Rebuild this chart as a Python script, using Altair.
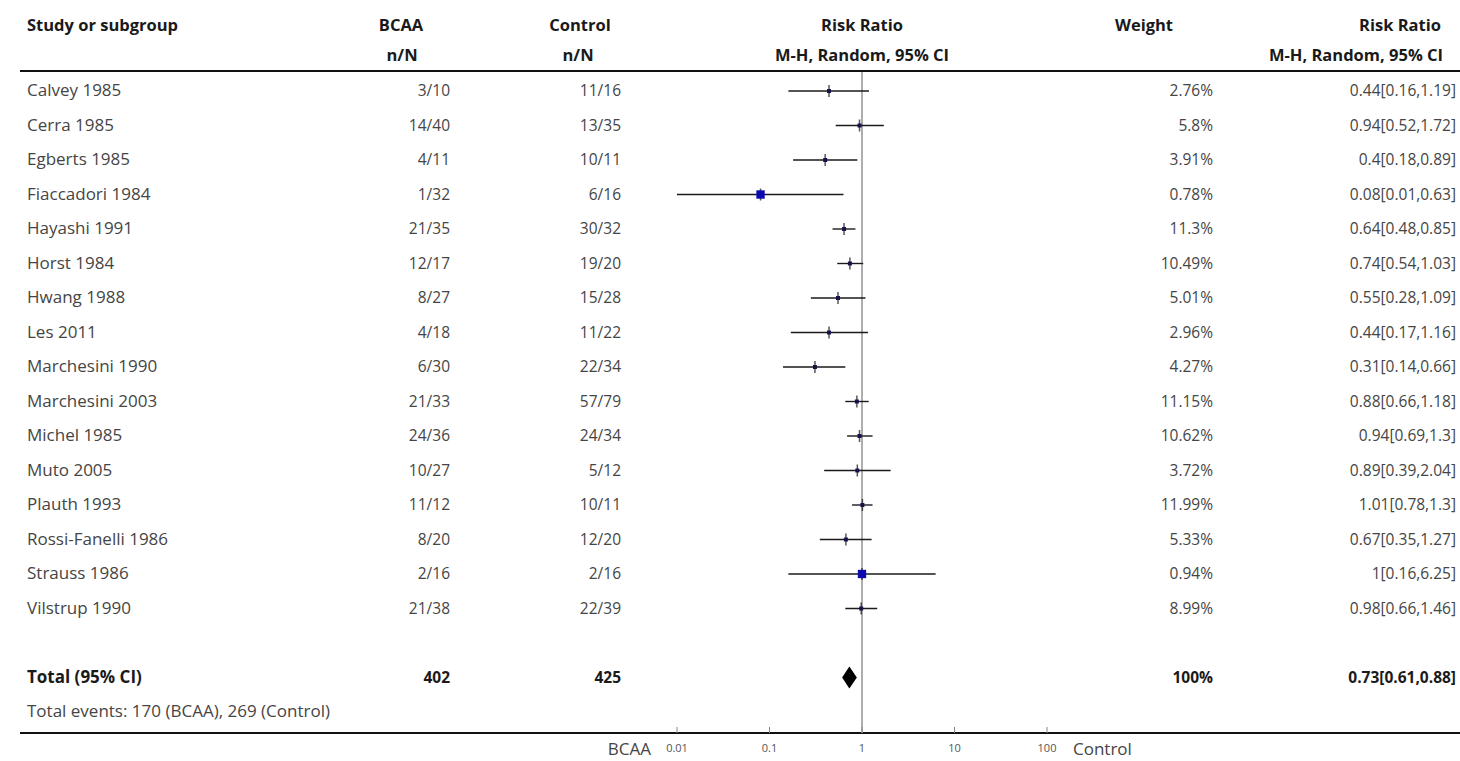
import altair as alt
import pandas as pd

# ---- data ----
studies = ["Calvey 1985", "Cerra 1985", "Egberts 1985", "Fiaccadori 1984", "Hayashi 1991",
           "Horst 1984", "Hwang 1988", "Les 2011", "Marchesini 1990", "Marchesini 2003",
           "Michel 1985", "Muto 2005", "Plauth 1993", "Rossi-Fanelli 1986", "Strauss 1986",
           "Vilstrup 1990"]
bcaa = ["3/10", "14/40", "4/11", "1/32", "21/35", "12/17", "8/27", "4/18", "6/30", "21/33",
        "24/36", "10/27", "11/12", "8/20", "2/16", "21/38"]
control = ["11/16", "13/35", "10/11", "6/16", "30/32", "19/20", "15/28", "11/22", "22/34",
           "57/79", "24/34", "5/12", "10/11", "12/20", "2/16", "22/39"]
weight = [2.76, 5.8, 3.91, 0.78, 11.3, 10.49, 5.01, 2.96, 4.27, 11.15, 10.62, 3.72, 11.99,
          5.33, 0.94, 8.99]
rr = [0.44, 0.94, 0.4, 0.08, 0.64, 0.74, 0.55, 0.44, 0.31, 0.88, 0.94, 0.89, 1.01, 0.67, 1, 0.98]
rr_lo = [0.16, 0.52, 0.18, 0.01, 0.48, 0.54, 0.28, 0.17, 0.14, 0.66, 0.69, 0.39, 0.78, 0.35,
         0.16, 0.66]
rr_hi = [1.19, 1.72, 0.89, 0.63, 0.85, 1.03, 1.09, 1.16, 0.66, 1.18, 1.3, 2.04, 1.3, 1.27,
         6.25, 1.46]

total_bcaa = 402
total_control = 425
total_weight = 100
total_rr, total_lo, total_hi = 0.73, 0.61, 0.88
events_bcaa, events_control = 170, 269
axis_ticks = [0.01, 0.1, 1, 10, 100]
axis_tick_labels = ["0.01", "0.1", "1", "10", "100"]

# ---- tables ----
def g(v):
    return f"{v:g}"

df = pd.DataFrame({
    "row": list(range(len(studies))),
    "study": studies,
    "bcaa": bcaa,
    "control": control,
    "weight": [g(w) + "%" for w in weight],
    "w": weight,
    "rr": rr,
    "lo": rr_lo,
    "hi": rr_hi,
    "rrtext": [f"{g(a)}[{g(b)},{g(c)}]" for a, b, c in zip(rr, rr_lo, rr_hi)],
})
df["small"] = df["w"] < 1

TOTAL_ROW = len(studies) + 1
EVENTS_ROW = len(studies) + 2

tot = pd.DataFrame({
    "row": [TOTAL_ROW],
    "study": ["Total (95% CI)"],
    "bcaa": [str(total_bcaa)],
    "control": [str(total_control)],
    "weight": [g(total_weight) + "%"],
    "rrtext": [f"{g(total_rr)}[{g(total_lo)},{g(total_hi)}]"],
})
ev = pd.DataFrame({"row": [EVENTS_ROW],
                   "t": [f"Total events: {events_bcaa} (BCAA), {events_control} (Control)"]})

half = 0.32
diamond = pd.DataFrame({
    "x": [total_lo, total_rr, total_hi],
    "y": [TOTAL_ROW, TOTAL_ROW - half, TOTAL_ROW],
    "y2": [TOTAL_ROW, TOTAL_ROW + half, TOTAL_ROW],
})
ticks = pd.DataFrame({"v": axis_ticks, "lab": axis_tick_labels})

# ---- scales ----
XS = alt.Scale(type="log", domain=[0.01, 100], range=[677, 1047])
YS = alt.Scale(domain=[0, 18], range=[91, 712], nice=False, zero=False)

FONT = "Open Sans"
FS_TXT = 17
FS_NUM = 15.5
FS_HDR = 16.5
TXT = "#454545"
HDR = "#1a1a1a"

def col_text(data, field, x, align, fs, bold=False, color=TXT):
    return alt.Chart(data).mark_text(
        align=align, baseline="middle", font=FONT, fontSize=fs,
        fontWeight="bold" if bold else "normal", color=color
    ).encode(x=alt.value(x), y=alt.Y("row:Q", scale=YS, axis=None), text=f"{field}:N")

layers = []

# column texts for studies
layers += [
    col_text(df, "study", 27, "left", FS_TXT),
    col_text(df, "bcaa", 450, "right", FS_NUM),
    col_text(df, "control", 621, "right", FS_NUM),
    col_text(df, "weight", 1213, "right", FS_NUM),
    col_text(df, "rrtext", 1456, "right", FS_NUM),
]
# total row
layers += [
    col_text(tot, "study", 27, "left", FS_TXT, True, HDR),
    col_text(tot, "bcaa", 450, "right", FS_NUM, True, HDR),
    col_text(tot, "control", 621, "right", FS_NUM, True, HDR),
    col_text(tot, "weight", 1213, "right", FS_NUM, True, HDR),
    col_text(tot, "rrtext", 1456, "right", FS_NUM, True, HDR),
    col_text(ev, "t", 27, "left", FS_TXT),
]

# headers: text, x, y, align
headers = [
    ("Study or subgroup", 27, 26, "left"),
    ("BCAA", 401, 26, "center"),
    ("n/N", 402, 56, "center"),
    ("Control", 580, 26, "center"),
    ("n/N", 578, 56, "center"),
    ("Risk Ratio", 862, 26, "center"),
    ("M-H, Random, 95% CI", 862, 56, "center"),
    ("Weight", 1144, 26, "center"),
    ("Risk Ratio", 1400, 26, "center"),
    ("M-H, Random, 95% CI", 1356, 56, "center"),
]
for t, x, y, a in headers:
    layers.append(
        alt.Chart(pd.DataFrame({"t": [t]})).mark_text(
            align=a, baseline="middle", font=FONT, fontSize=FS_HDR, fontWeight="bold", color=HDR)
        .encode(x=alt.value(x), y=alt.value(y), text="t:N")
    )

# horizontal separator lines
layers.append(alt.Chart(pd.DataFrame({"y": [71, 733]})).mark_rule(color="#111", strokeWidth=2)
              .encode(x=alt.value(20), x2=alt.value(1460), y=alt.Y("y:Q", scale=None)))

# null line at RR = 1
layers.append(alt.Chart(pd.DataFrame({"v": [1]})).mark_rule(color="#9a9a9a", strokeWidth=1.6)
              .encode(x=alt.X("v:Q", scale=XS, axis=None), y=alt.value(72), y2=alt.value(733)))

# axis ticks and labels
layers.append(alt.Chart(ticks).mark_rule(color="#888", strokeWidth=1)
              .encode(x=alt.X("v:Q", scale=XS, axis=None), y=alt.value(727), y2=alt.value(733)))
layers.append(alt.Chart(ticks).mark_text(baseline="middle", font=FONT, fontSize=11, color="#555")
              .encode(x=alt.X("v:Q", scale=XS, axis=None), y=alt.value(749), text="lab:N"))
layers.append(alt.Chart(pd.DataFrame({"t": ["BCAA"]})).mark_text(
    align="right", baseline="middle", font=FONT, fontSize=17, color=TXT)
    .encode(x=alt.value(651), y=alt.value(750), text="t:N"))
layers.append(alt.Chart(pd.DataFrame({"t": ["Control"]})).mark_text(
    align="left", baseline="middle", font=FONT, fontSize=17, color=TXT)
    .encode(x=alt.value(1073), y=alt.value(750), text="t:N"))

# confidence intervals
layers.append(alt.Chart(df).mark_rule(color="#1a1a1a", strokeWidth=1.4)
              .encode(x=alt.X("lo:Q", scale=XS, axis=None), x2="hi:Q",
                      y=alt.Y("row:Q", scale=YS, axis=None)))
# estimate ticks
layers.append(alt.Chart(df).mark_point(shape="M0,-1L0,1", size=144, color="#111",
                                       strokeWidth=1.5, filled=False)
              .encode(x=alt.X("rr:Q", scale=XS, axis=None), y=alt.Y("row:Q", scale=YS, axis=None)))
# squares
layers.append(alt.Chart(df[~df.small]).mark_square(size=16, color="#14144a", opacity=1)
              .encode(x=alt.X("rr:Q", scale=XS, axis=None), y=alt.Y("row:Q", scale=YS, axis=None)))
layers.append(alt.Chart(df[df.small]).mark_square(size=70, color="#0a0ab0", opacity=1)
              .encode(x=alt.X("rr:Q", scale=XS, axis=None), y=alt.Y("row:Q", scale=YS, axis=None)))

# pooled diamond
layers.append(alt.Chart(diamond).mark_area(color="#000")
              .encode(x=alt.X("x:Q", scale=XS, axis=None),
                      y=alt.Y("y:Q", scale=YS, axis=None), y2="y2:Q"))

chart = alt.layer(*layers).properties(
    width=1460, height=761, autosize=alt.AutoSizeParams(type="none"), padding=0,
    background="white"
).configure_view(stroke=None)

chart.save("out.html", embed_options={"renderer": "svg", "actions": False})
